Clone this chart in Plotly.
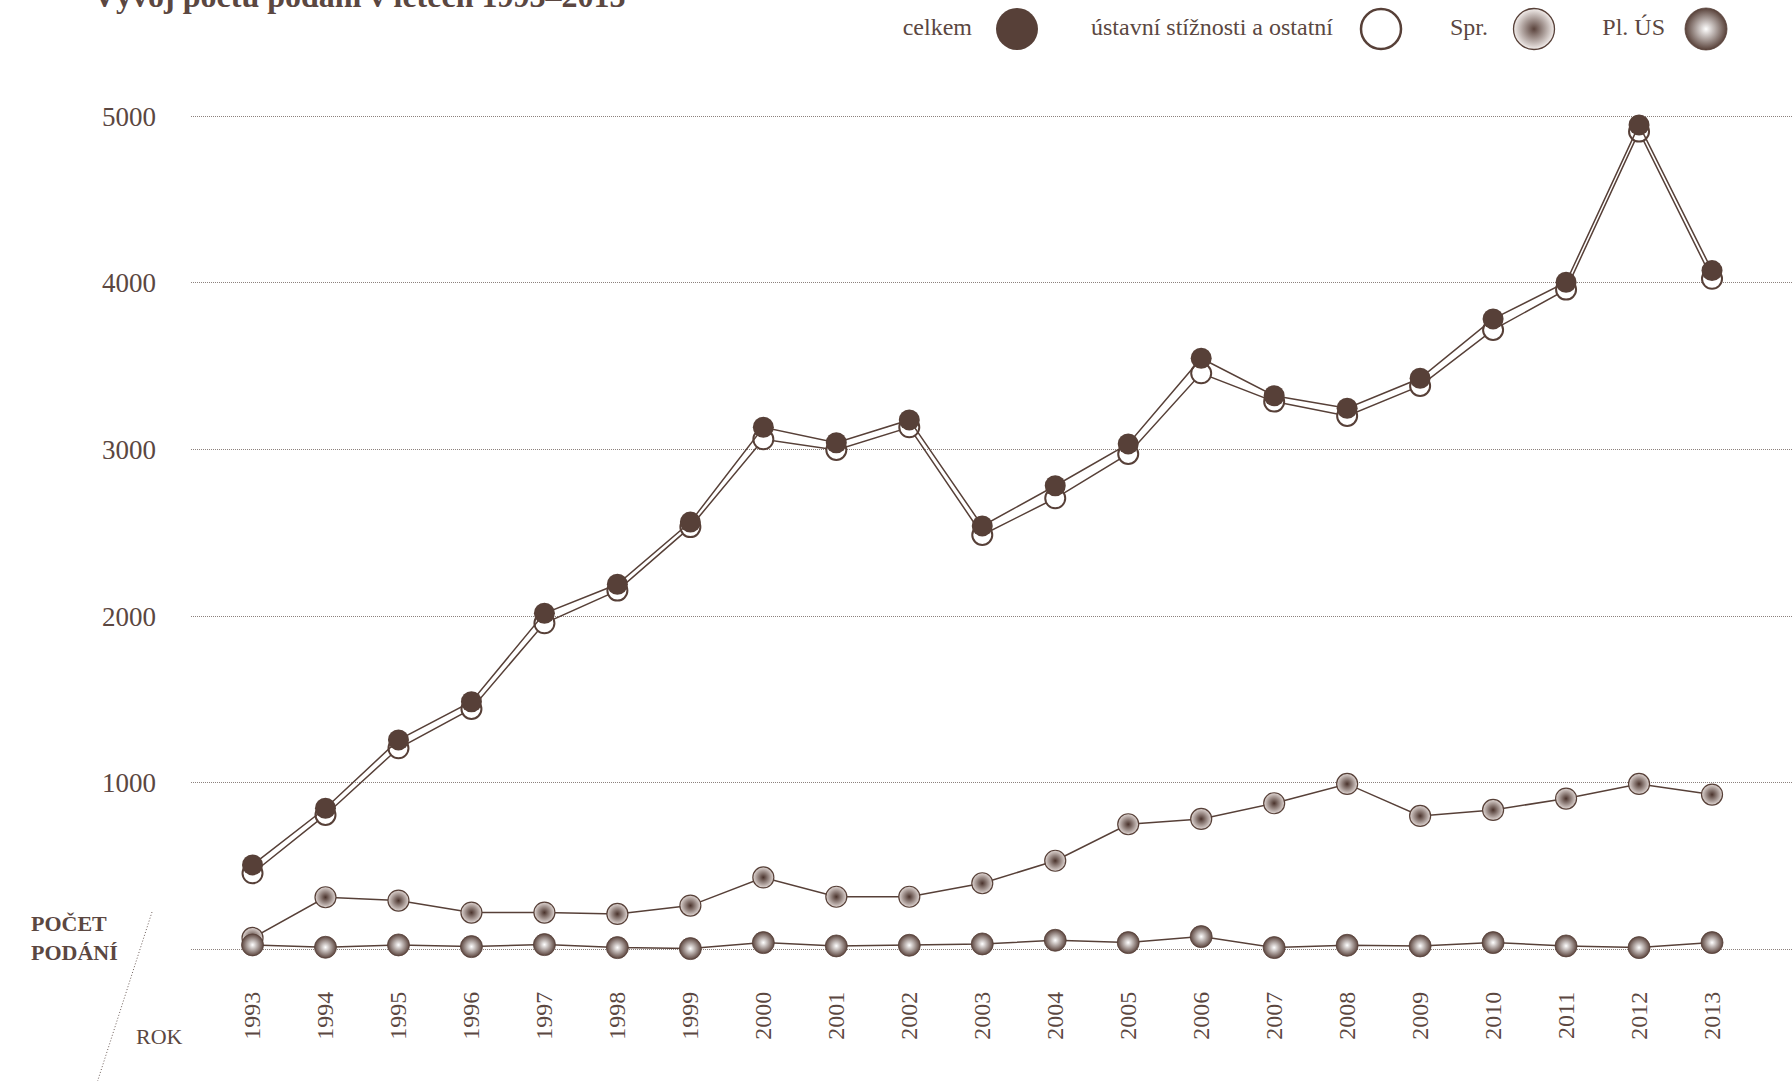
import plotly.graph_objects as go

# ---------------- data ----------------
YEARS = [1993, 1994, 1995, 1996, 1997, 1998, 1999, 2000, 2001, 2002, 2003,
         2004, 2005, 2006, 2007, 2008, 2009, 2010, 2011, 2012, 2013]
CELKEM = [508, 848, 1258, 1487, 2018, 2192, 2565, 3134, 3041, 3178, 2542,
          2783, 3034, 3548, 3323, 3248, 3428, 3784, 4004, 4948, 4074]
USTAVNI = [458, 808, 1208, 1444, 1958, 2154, 2535, 3062, 2998, 3134, 2488,
           2708, 2974, 3458, 3288, 3202, 3382, 3718, 3960, 4908, 4025]
SPR = [70, 314, 294, 222, 222, 214, 264, 433, 317, 317, 398,
       533, 752, 784, 878, 994, 802, 838, 906, 994, 930]
PLUS = [28, 14, 28, 18, 30, 12, 6, 42, 22, 26, 34,
        56, 42, 78, 12, 26, 22, 42, 22, 12, 42]
SERIES_NAMES = ["celkem", "ústavní stížnosti a ostatní", "Spr.", "Pl. ÚS"]
Y_TICKS = [0, 1000, 2000, 3000, 4000, 5000]
Y_TICK_TEXT = ["", "1000", "2000", "3000", "4000", "5000"]
TITLE = "Vývoj počtu podání v letech 1993–2013"

# ---------------- style ----------------
W, H = 1792, 1081
ML, MR, MT, MB = 191, 0, 0, 106
PW, PH = W - ML - MR, H - MT - MB
BROWN = "#574038"
TEXT = "#5b4741"
GRID = "#8c817d"
FONT = "Liberation Serif"


def px_x(px):
    return (px - ML) / PW


def px_y(py):
    return (PH - (py - MT)) / PH


main_top_px = 100
y_domain_top = px_y(main_top_px)

styles = {
    "celkem": dict(color=BROWN, size=21, line=dict(color=BROWN, width=0)),
    "ústavní stížnosti a ostatní": dict(color="white", size=20,
                                        line=dict(color=BROWN, width=2)),
    "Spr.": dict(color="#e2d9d6", size=21, line=dict(color=BROWN, width=1.2),
                 gradient=dict(type="radial", color="#4a332c")),
    "Pl. ÚS": dict(color="#5a433c", size=22, line=dict(color=BROWN, width=0.8),
                   gradient=dict(type="radial", color="#ffffff")),
}
legend_styles = {
    "celkem": dict(color=BROWN, size=42, line=dict(color=BROWN, width=0)),
    "ústavní stížnosti a ostatní": dict(color="white", size=40,
                                        line=dict(color=BROWN, width=2.5)),
    "Spr.": dict(color="#f3eeec", size=41, line=dict(color=BROWN, width=1.3),
                 gradient=dict(type="radial", color="#5a433c")),
    "Pl. ÚS": dict(color="#574038", size=42, line=dict(color=BROWN, width=0.8),
                   gradient=dict(type="radial", color="#ffffff")),
}

data_by_name = {
    "celkem": CELKEM,
    "ústavní stížnosti a ostatní": USTAVNI,
    "Spr.": SPR,
    "Pl. ÚS": PLUS,
}

fig = go.Figure()

# draw order: ústavní under celkem, Spr under Pl. ÚS
for name in ["ústavní stížnosti a ostatní", "celkem", "Spr.", "Pl. ÚS"]:
    fig.add_trace(go.Scatter(
        x=YEARS, y=data_by_name[name], name=name, mode="lines+markers",
        line=dict(color=BROWN, width=1.5),
        marker=styles[name], cliponaxis=False, showlegend=False,
    ))

# custom legend (label to the left of the key), drawn in a separate strip
LEG_MARK_X = [1017, 1381, 1534, 1706]
LEG_TEXT_X = [972, 1333, 1488, 1665]
LEG_Y = 29
for name, mx in zip(SERIES_NAMES, LEG_MARK_X):
    fig.add_trace(go.Scatter(
        x=[mx], y=[LEG_Y], mode="markers", marker=legend_styles[name],
        xaxis="x2", yaxis="y2", showlegend=False, hoverinfo="skip",
        cliponaxis=False,
    ))
fig.add_trace(go.Scatter(
    x=LEG_TEXT_X, y=[LEG_Y] * 4, mode="text", text=SERIES_NAMES,
    textposition="middle left", textfont=dict(family=FONT, size=24, color=TEXT),
    xaxis="x2", yaxis="y2", showlegend=False, hoverinfo="skip",
    cliponaxis=False,
))

fig.update_layout(
    width=W, height=H,
    margin=dict(l=ML, r=MR, t=MT, b=MB, pad=0),
    paper_bgcolor="white", plot_bgcolor="white",
    font=dict(family=FONT, color=TEXT),
    showlegend=False,
    title=dict(text="<b>" + TITLE + "</b>", x=93 / W, xanchor="left",
               xref="container", yref="container",
               y=1 - 7 / H, yanchor="bottom",
               font=dict(family=FONT, size=32, color=TEXT)),
    xaxis=dict(range=[1992.157, 2014.096], tickvals=YEARS,
               ticktext=[str(y) for y in YEARS], tickangle=-90,
               tickfont=dict(family=FONT, size=24, color=TEXT),
               showgrid=False, zeroline=False, showline=False, ticks="",
               ticklabelstandoff=11),
    yaxis=dict(range=[-152.4, 5097.6], domain=[0, y_domain_top],
               tickvals=Y_TICKS, ticktext=Y_TICK_TEXT,
               tickfont=dict(family=FONT, size=27, color=TEXT),
               showgrid=True, gridcolor=GRID, gridwidth=1, griddash="1px,1px",
               zeroline=False, showline=False, ticks="",
               ticklabelstandoff=34),
    xaxis2=dict(domain=[0, 1], range=[ML, W], visible=False,
                anchor="y2", fixedrange=True),
    yaxis2=dict(domain=[px_y(60), 1], range=[60, 0], visible=False,
                anchor="x2", fixedrange=True),
)

# corner labels and diagonal divider
fig.add_annotation(text="<b>POČET<br>PODÁNÍ</b>", xref="paper", yref="paper",
                   x=px_x(29), y=px_y(938), xanchor="left", yanchor="middle",
                   align="left", showarrow=False,
                   font=dict(family=FONT, size=22, color=TEXT))
fig.add_annotation(text="ROK", xref="paper", yref="paper",
                   x=px_x(134), y=px_y(1036), xanchor="left", yanchor="middle",
                   showarrow=False, font=dict(family=FONT, size=22, color=TEXT))
fig.add_shape(type="line", xref="paper", yref="paper",
              x0=px_x(152), y0=px_y(912), x1=px_x(96), y1=px_y(1086),
              line=dict(color="#6d5d58", width=1, dash="1px,2px"))

fig.write_html("out.html")
